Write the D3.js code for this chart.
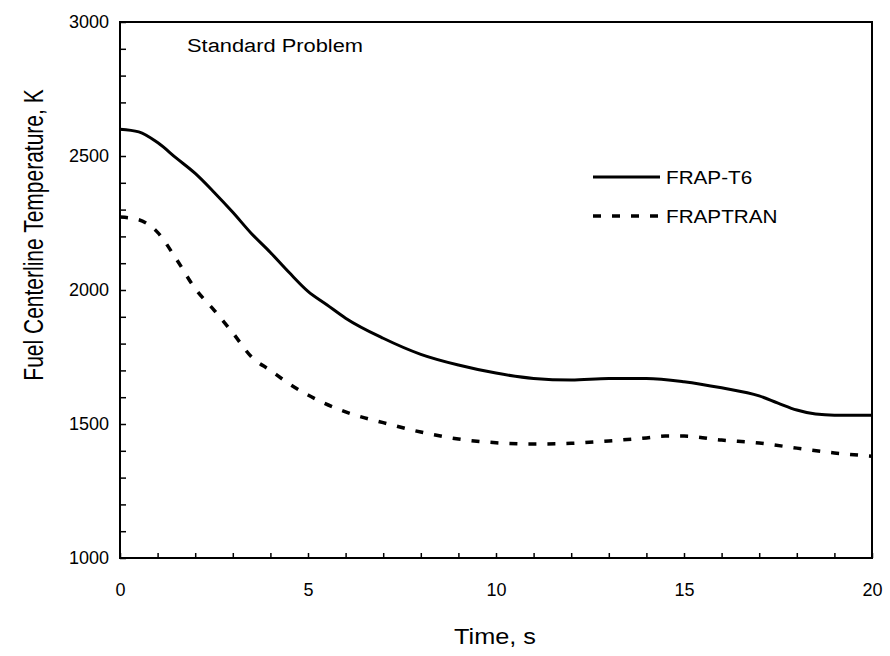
<!DOCTYPE html>
<html>
<head>
<meta charset="utf-8">
<script src="https://cdn.jsdelivr.net/npm/d3@7"></script>
<style>
  body { margin: 0; background: #fff; }
  text { font-family: "Liberation Sans", Arial, Helvetica, sans-serif; fill: #000; }
</style>
</head>
<body>
<script>
// values
const frapT6Time = [0, 0.5, 1, 1.5, 2, 2.5, 3, 3.5, 4, 4.5, 5, 5.5, 6, 7, 8, 9, 10, 11, 12, 13, 14, 15, 16, 17, 17.5, 18, 18.5, 19, 20]
const frapT6Temp = [2600, 2590, 2550, 2492, 2435, 2365, 2290, 2210, 2140, 2065, 1995, 1945, 1895, 1820, 1760, 1720, 1690, 1670, 1664, 1670, 1670, 1658, 1635, 1605, 1578, 1552, 1537, 1533, 1533]

const fraptranTime = [0, 0.5, 1, 1.5, 2, 2.5, 3, 3.5, 4, 4.5, 5, 6, 7, 8, 9, 10, 11, 12, 13, 14, 14.5, 15, 16, 17, 18, 19, 20]
const fraptranTemp = [2272, 2262, 2215, 2115, 2005, 1925, 1840, 1750, 1700, 1650, 1608, 1545, 1505, 1470, 1444, 1430, 1425, 1428, 1437, 1448, 1455, 1455, 1440, 1429, 1410, 1392, 1380]

const seriesNames = ['FRAP-T6', 'FRAPTRAN']
const xTicks = [0, 5, 10, 15, 20]
const yTicks = [1000, 1500, 2000, 2500, 3000]

const margin = { top: 22, right: 18, bottom: 98, left: 120 }
    , width = 890 - margin.left - margin.right
    , height = 656 - margin.top - margin.bottom

// the scanned figure is a little wider than tall
const stretch = 1.15

const svg = d3.select('body').append('svg')
    .attr('width', 890)
    .attr('height', 656)

const g = svg.append('g')
    .attr('transform', 'translate(' + margin.left + ',' + margin.top + ')')

const xScale = d3.scaleLinear().domain([0, 20]).range([0, width])
const yScale = d3.scaleLinear().domain([1000, 3000]).range([height, 0])

// minor ticks, pointing inward
g.append('g')
    .attr('transform', 'translate(0,' + height + ')')
    .call(d3.axisTop(xScale).tickValues(d3.range(0, 21, 1)).tickSize(5).tickFormat(''))
    .call(a => a.select('.domain').remove())
    .selectAll('line').attr('stroke-width', 1.5)

g.append('g')
    .call(d3.axisRight(yScale).tickValues(d3.range(1000, 3001, 100)).tickSize(6).tickFormat(''))
    .call(a => a.select('.domain').remove())
    .selectAll('line').attr('stroke-width', 1.5)

// tick labels
g.append('g')
    .attr('transform', 'translate(0,' + height + ')')
    .call(d3.axisBottom(xScale).tickValues(xTicks).tickSize(0).tickPadding(25).tickFormat(d3.format('d')))
    .call(a => a.select('.domain').remove())
    .selectAll('text')
    .attr('font-family', null)
    .style('font-size', '18px')

g.append('g')
    .call(d3.axisLeft(yScale).tickValues(yTicks).tickSize(0).tickPadding(11).tickFormat(d3.format('d')))
    .call(a => a.select('.domain').remove())
    .selectAll('text')
    .attr('font-family', null)
    .style('font-size', '18px')

// frame
g.append('rect')
    .attr('width', width)
    .attr('height', height)
    .attr('fill', 'none')
    .attr('stroke', '#000')
    .attr('stroke-width', 2)

// lines
const line = d3.line()
    .x(d => xScale(d[0]))
    .y(d => yScale(d[1]))
    .curve(d3.curveMonotoneX)

g.append('path')
    .datum(frapT6Time.map((t, i) => [t, frapT6Temp[i]]))
    .attr('d', line)
    .attr('fill', 'none')
    .attr('stroke', '#000')
    .attr('stroke-width', 3)

g.append('path')
    .datum(fraptranTime.map((t, i) => [t, fraptranTemp[i]]))
    .attr('d', line)
    .attr('fill', 'none')
    .attr('stroke', '#000')
    .attr('stroke-width', 3.5)
    .attr('stroke-dasharray', '8,11')

// legend
const legend = g.append('g')
    .attr('transform', 'translate(' + (593 - margin.left) + ',' + (177 - margin.top) + ')')

seriesNames.forEach((name, i) => {
    legend.append('line')
        .attr('x1', 0).attr('x2', 67)
        .attr('y1', i * 39).attr('y2', i * 39)
        .attr('stroke', '#000')
        .attr('stroke-width', i == 0 ? 3 : 3.5)
        .attr('stroke-dasharray', i == 0 ? null : '8,11')
    legend.append('text')
        .attr('transform', 'translate(73,' + (i * 39 + 7) + ')scale(' + stretch + ',1)')
        .style('font-size', '18px')
        .text(name)
})

// annotation
g.append('text')
    .attr('transform', 'translate(' + (187 - margin.left) + ',' + (52 - margin.top) + ')scale(' + stretch + ',1)')
    .style('font-size', '19px')
    .text('Standard Problem')

// axis titles
svg.append('text')
    .attr('text-anchor', 'middle')
    .attr('transform', 'translate(' + 495 + ',644)scale(' + stretch + ',1)')
    .style('font-size', '22px')
    .text('Time, s')

svg.append('text')
    .attr('text-anchor', 'middle')
    .attr('transform', 'translate(43,235)scale(1.3,1)rotate(-90)')
    .style('font-size', '21px')
    .text('Fuel Centerline Temperature, K')
</script>
</body>
</html>
